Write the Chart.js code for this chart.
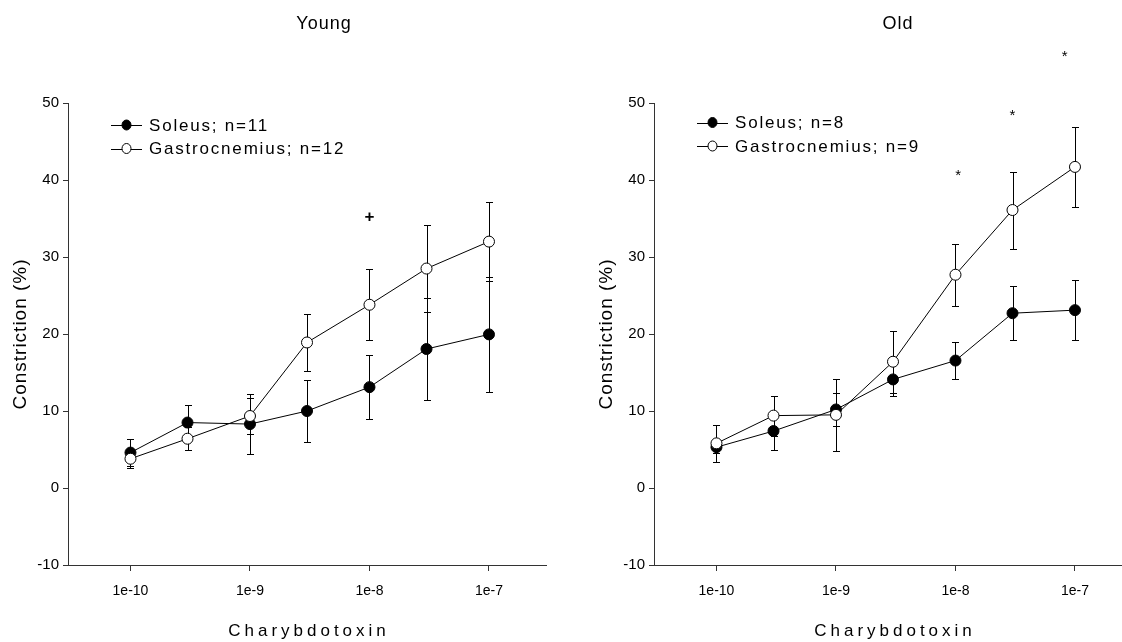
<!DOCTYPE html>
<html>
<head>
<meta charset="utf-8">
<title>Charybdotoxin constriction - Young / Old</title>
<script src="https://cdn.jsdelivr.net/npm/chart.js@4.4.1/dist/chart.umd.min.js"></script>
<style>
  html, body { margin: 0; padding: 0; background: #fff; }
  #wrap { position: relative; width: 1122px; height: 642px; overflow: hidden; }
  canvas { position: absolute; top: 0; }
</style>
</head>
<body>
<div id="wrap">
  <canvas id="youngChart" width="586" height="642" style="left:0"></canvas>
  <canvas id="oldChart" width="586" height="642" style="left:586px"></canvas>
</div>
<script>
// doses (M) and tick labels
const doses = [1e-10, 3e-10, 1e-9, 3e-9, 1e-8, 3e-8, 1e-7];
const xTicks = [1e-10, 1e-9, 1e-8, 1e-7];
const xTickLabels = ['1e-10', '1e-9', '1e-8', '1e-7'];

// Young
const youngSoleus = [4.6, 8.5, 8.3, 10.0, 13.1, 18.05, 19.95];
const youngSoleusErr = [1.8, 2.3, 3.9, 4.05, 4.2, 6.6, 7.5];
const youngGastro = [3.8, 6.4, 9.35, 18.9, 23.8, 28.5, 32.0];
const youngGastroErr = [1.2, 1.5, 2.35, 3.65, 4.6, 5.6, 5.1];
const youngNames = ['Soleus; n=11', 'Gastrocnemius; n=12'];
const youngMarkX = [1e-8];
const youngMarkY = [35.3];
const youngMarkText = ['+'];

// Old
const oldSoleus = [5.3, 7.4, 10.2, 14.1, 16.55, 22.7, 23.1];
const oldSoleusErr = [0.8, 2.5, 2.2, 2.2, 2.35, 3.5, 3.9];
const oldGastro = [5.8, 9.4, 9.5, 16.4, 27.7, 36.1, 41.7];
const oldGastroErr = [2.4, 2.6, 4.7, 4.0, 4.0, 5.0, 5.2];
const oldNames = ['Soleus; n=8', 'Gastrocnemius; n=9'];
const oldMarkX = [1.055e-8, 3e-8, 8.2e-8];
const oldMarkY = [40.95, 48.66, 56.4];
const oldMarkText = ['*', '*', '*'];

const FONT = "'Liberation Sans', Arial, Helvetica, sans-serif";

// vertical error bars, drawn under the markers
const errorBars = {
  id: 'errorBars',
  beforeDatasetsDraw(chart) {
    const { ctx, scales: { x, y } } = chart;
    ctx.save();
    ctx.strokeStyle = '#000';
    ctx.lineWidth = 1;
    chart.data.datasets.forEach(ds => {
      ds.data.forEach((pt, i) => {
        const px = Math.round(x.getPixelForValue(pt.x)) + 0.5;
        const top = Math.round(y.getPixelForValue(pt.y + ds.err[i])) + 0.5;
        const bot = Math.round(y.getPixelForValue(pt.y - ds.err[i])) + 0.5;
        ctx.beginPath();
        ctx.moveTo(px, top); ctx.lineTo(px, bot);
        ctx.moveTo(px - 3.5, top); ctx.lineTo(px + 3.5, top);
        ctx.moveTo(px - 3.5, bot); ctx.lineTo(px + 3.5, bot);
        ctx.stroke();
      });
    });
    ctx.restore();
  }
};

// titles, axis titles, legend and significance marks
function panelText(p) {
  return {
    id: 'panelText',
    afterDraw(chart) {
      const { ctx, chartArea: a, scales: { x, y } } = chart;
      ctx.save();
      ctx.fillStyle = '#000';
      ctx.textBaseline = 'middle';

      // panel title
      ctx.font = '18px ' + FONT;
      ctx.letterSpacing = '1px';
      ctx.textAlign = 'center';
      ctx.fillText(p.title, p.titleX, 24);

      // x title
      ctx.font = '17px ' + FONT;
      ctx.letterSpacing = '4px';
      ctx.fillText('Charybdotoxin', (a.left + a.right) / 2 + 2, 631);

      // y title
      ctx.save();
      ctx.translate(21, (a.top + a.bottom) / 2);
      ctx.rotate(-Math.PI / 2);
      ctx.font = '19px ' + FONT;
      ctx.letterSpacing = '1px';
      ctx.fillText('Constriction (%)', 0, 0);
      ctx.restore();

      // legend
      ctx.font = '17px ' + FONT;
      ctx.letterSpacing = '1.8px';
      ctx.textAlign = 'left';
      chart.data.datasets.forEach((ds, i) => {
        const ly = a.top + p.legendTop + i * 23.5;
        ctx.strokeStyle = '#000';
        ctx.lineWidth = 1;
        ctx.beginPath();
        ctx.moveTo(a.left + 43, Math.round(ly) + 0.5);
        ctx.lineTo(a.left + 74, Math.round(ly) + 0.5);
        ctx.stroke();
        ctx.beginPath();
        ctx.ellipse(a.left + 58.5, ly, 4.5, 5, 0, 0, Math.PI * 2);
        ctx.fillStyle = ds.pointBackgroundColor;
        ctx.fill();
        ctx.stroke();
        ctx.fillStyle = '#000';
        ctx.fillText(ds.label, a.left + 81, ly + 1);
      });

      // significance marks
      ctx.letterSpacing = '0px';
      ctx.textAlign = 'center';
      ctx.textBaseline = 'alphabetic';
      p.markX.forEach((mx, i) => {
        const t = p.markText[i];
        ctx.font = (t === '+' ? 'bold 17px ' : '15px ') + FONT;
        const m = ctx.measureText(t);
        const cx = x.getPixelForValue(mx);
        const cy = y.getPixelForValue(p.markY[i]);
        ctx.fillText(t, cx, cy + (m.actualBoundingBoxAscent - m.actualBoundingBoxDescent) / 2);
      });
      ctx.restore();
    }
  };
}

function makeChart(id, p) {
  const pts = vals => doses.map((d, i) => ({ x: d, y: vals[i] }));
  const common = {
    borderColor: '#000', borderWidth: 1, tension: 0,
    pointRadius: 5.5, pointHoverRadius: 5.5, pointBorderColor: '#000', pointBorderWidth: 1
  };
  return new Chart(document.getElementById(id), {
    type: 'line',
    data: {
      datasets: [
        Object.assign({ label: p.names[0], data: pts(p.soleus), err: p.soleusErr,
          pointBackgroundColor: '#000', order: 1 }, common),
        Object.assign({ label: p.names[1], data: pts(p.gastro), err: p.gastroErr,
          pointBackgroundColor: '#fff', order: 0 }, common)
      ]
    },
    options: {
      responsive: false,
      animation: false,
      events: [],
      layout: { padding: { top: 103, right: 40, bottom: 0, left: 0 } },
      plugins: { legend: { display: false }, tooltip: { enabled: false } },
      scales: {
        x: {
          type: 'logarithmic',
          min: 3e-11,
          max: 3e-7,
          afterFit: s => { s.height = 77; },
          afterBuildTicks: s => { s.ticks = xTicks.map(v => ({ value: v })); },
          ticks: {
            autoSkip: false,
            maxRotation: 0,
            padding: 12,
            color: '#000',
            font: { family: FONT, size: 14 },
            callback: (v, i) => xTickLabels[i]
          },
          grid: { drawOnChartArea: false, drawTicks: true, tickLength: 6, color: '#333' },
          border: { color: '#333', width: 1 }
        },
        y: {
          min: -10,
          max: 50,
          afterFit: s => { s.width = 68; },
          ticks: { stepSize: 10, padding: 4, color: '#000', font: { family: FONT, size: 15 } },
          grid: { drawOnChartArea: false, drawTicks: true, tickLength: 5, color: '#333' },
          border: { color: '#333', width: 1 }
        }
      }
    },
    plugins: [errorBars, panelText(p)]
  });
}

makeChart('youngChart', {
  title: 'Young', titleX: 324, legendTop: 22,
  names: youngNames,
  soleus: youngSoleus, soleusErr: youngSoleusErr,
  gastro: youngGastro, gastroErr: youngGastroErr,
  markX: youngMarkX, markY: youngMarkY, markText: youngMarkText
});

makeChart('oldChart', {
  title: 'Old', titleX: 312, legendTop: 19.5,
  names: oldNames,
  soleus: oldSoleus, soleusErr: oldSoleusErr,
  gastro: oldGastro, gastroErr: oldGastroErr,
  markX: oldMarkX, markY: oldMarkY, markText: oldMarkText
});
</script>
</body>
</html>
